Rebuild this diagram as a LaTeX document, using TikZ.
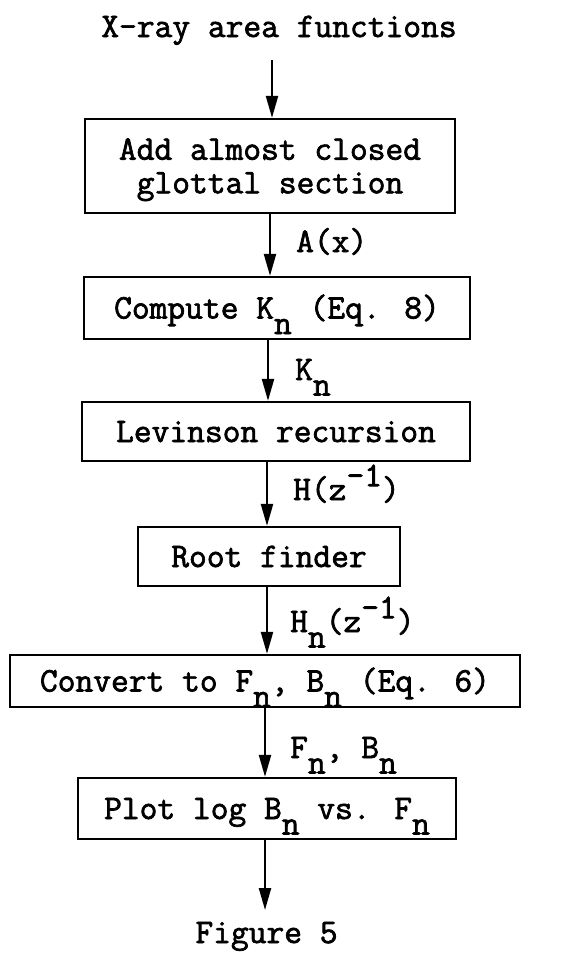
\documentclass[tikz,border=0pt]{standalone}
\usepackage{fontspec}
\newfontfamily\cour{Latin Modern Mono}[FakeBold=2]
\usetikzlibrary{arrows.meta}
\newcommand{\dn}[1]{\raisebox{-0.45em}{#1}}
\newcommand{\up}[1]{\raisebox{0.4em}{#1}}
\tikzset{
  txt/.style={font=\fontsize{34.5}{33.5}\selectfont\cour, inner sep=0pt},
  box/.style={txt, draw, line width=2.3pt, align=center},
  onebox/.style={box, text height=21pt, text depth=0pt},
  lbl/.style={txt, anchor=base west},
  arr/.style={line width=2.3pt, -{Triangle[length=22pt,width=12pt]}},
}
\begin{document}
\begin{tikzpicture}[x=1pt,y=-1pt]
\useasboundingbox (0,0) rectangle (580,962);
\node[txt, anchor=base] (title) at (279,37) {X-ray area functions};
\node[box, text height=54.5pt, text depth=0pt, minimum width=370pt, minimum height=94pt] (b1) at (270,166) {Add almost closed\\glottal section};
\node[onebox, minimum width=386pt, minimum height=62pt] (b2) at (277,308) {Compute K\dn{n} (Eq. 8)};
\node[onebox, minimum width=388pt, minimum height=59pt] (b3) at (276,431.5) {Levinson recursion};
\node[onebox, minimum width=262pt, minimum height=59pt] (b4) at (269,556.5) {Root finder};
\node[onebox, minimum width=510pt, minimum height=52pt] (b5) at (265,681) {Convert to F\dn{n}, B\dn{n} (Eq. 6)};
\node[onebox, minimum width=378pt, minimum height=61pt] (b6) at (267,808.5) {Plot log B\dn{n} vs. F\dn{n}};
\node[txt, anchor=base] (fig) at (266.5,943) {Figure 5};
% arrow x positions
\coordinate (x1) at (272,60);
\coordinate (x2) at (270,0);
\coordinate (x3) at (268,0);
\coordinate (x4) at (267,0);
\coordinate (x5) at (267,0);
\coordinate (x6) at (265,0);
\coordinate (x7) at (265,910);
\draw[arr] (x1) -- (x1 |- b1.north);
\draw[arr] (x2 |- b1.south) -- (x2 |- b2.north);
\draw[arr] (x3 |- b2.south) -- (x3 |- b3.north);
\draw[arr] (x4 |- b3.south) -- (x4 |- b4.north);
\draw[arr] (x5 |- b4.south) -- (x5 |- b5.north);
\draw[arr] (x6 |- b5.south) -- (x6 |- b6.north);
\draw[arr] (x7 |- b6.south) -- (x7);
% labels
\node[lbl] (l2) at (296,252) {A(x)};
\node[lbl] (l3) at (295,380) {K\dn{n}};
\node[lbl] (l4) at (293,500) {H(z\up{-1})};
\node[lbl] (l5) at (290,632) {H\dn{n}(z\up{-1})};
\node[lbl] (l6) at (290,758) {F\dn{n}, B\dn{n}};
\end{tikzpicture}
\end{document}
